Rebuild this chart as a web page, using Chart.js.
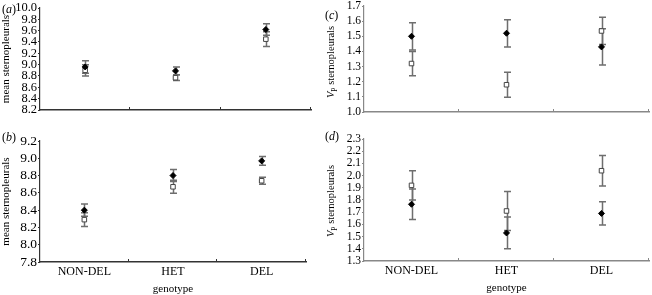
<!DOCTYPE html>
<html>
<head>
<meta charset="utf-8">
<script src="https://cdn.jsdelivr.net/npm/chart.js@4.4.1/dist/chart.umd.min.js"></script>
<style>
  html, body { margin: 0; padding: 0; background: #fff; overflow: hidden; }
  body { width: 652px; height: 295px; position: relative; font-family: 'Liberation Serif', 'DejaVu Serif', serif; color: #000; }
  canvas { position: absolute; }
  .panel-label { position: absolute; font-size: 12px; line-height: 12px; }
  .ytitle { position: absolute; font-size: 10.5px; white-space: nowrap; transform: translate(-50%, -50%) rotate(-90deg); }
  .ytitle sub { font-size: 7.5px; }
</style>
</head>
<body>
<canvas id="chartA"></canvas>
<canvas id="chartB"></canvas>
<canvas id="chartC"></canvas>
<canvas id="chartD"></canvas>

<div class="panel-label" style="left:2px; top:3px;">(<i>a</i>)</div>
<div class="panel-label" style="left:2px; top:131px;">(<i>b</i>)</div>
<div class="panel-label" style="left:325px; top:9px;">(<i>c</i>)</div>
<div class="panel-label" style="left:325px; top:130px;">(<i>d</i>)</div>

<div class="ytitle" style="left:332px; top:62px;"><i>V</i><sub>P</sub> sternopleurals</div>
<div class="ytitle" style="left:332px; top:201px;"><i>V</i><sub>P</sub> sternopleurals</div>

<script>
const genotypes = ['NON-DEL', 'HET', 'DEL'];

// (a) mean sternopleurals, top row
const meanFilledA = [8.96, 8.89, 9.62];
const errFilledA = [0.11, 0.07, 0.10];
const meanOpenA = [8.90, 8.77, 9.45];
const errOpenA = [0.10, 0.05, 0.13];
const yTicksA = [8.2, 8.4, 8.6, 8.8, 9.0, 9.2, 9.4, 9.6, 9.8, 10.0];

// (b) mean sternopleurals, bottom row
const meanFilledB = [8.40, 8.80, 8.97];
const errFilledB = [0.07, 0.07, 0.05];
const meanOpenB = [8.29, 8.67, 8.74];
const errOpenB = [0.08, 0.075, 0.04];
const yTicksB = [7.8, 8.0, 8.2, 8.4, 8.6, 8.8, 9.0, 9.2];

// (c) VP sternopleurals, top row
const vpFilledC = [1.50, 1.52, 1.43];
const errFilledC = [0.09, 0.09, 0.12];
const vpOpenC = [1.32, 1.18, 1.535];
const errOpenC = [0.08, 0.083, 0.09];
const yTicksC = [1.0, 1.1, 1.2, 1.3, 1.4, 1.5, 1.6, 1.7];

// (d) VP sternopleurals, bottom row
const vpFilledD = [1.765, 1.53, 1.69];
const errFilledD = [0.125, 0.13, 0.095];
const vpOpenD = [1.92, 1.71, 2.04];
const errOpenD = [0.12, 0.16, 0.125];
const yTicksD = [1.3, 1.4, 1.5, 1.6, 1.7, 1.8, 1.9, 2.0, 2.1, 2.2, 2.3];

// Draws the error bars (under the markers) from each dataset's errors array
const errorBars = {
    id: 'errorBars',
    beforeDatasetsDraw(chart) {
        const ctx = chart.ctx;
        const x = chart.scales.x;
        const y = chart.scales.y;
        ctx.save();
        ctx.strokeStyle = '#6e6e6e';
        ctx.lineWidth = 1.5;
        chart.data.datasets.forEach(ds => {
            ds.errors.forEach((e, i) => {
                const px = Math.round(x.getPixelForValue(i)) + 0.5;
                const top = y.getPixelForValue(ds.data[i] + e);
                const bot = y.getPixelForValue(ds.data[i] - e);
                ctx.beginPath();
                ctx.moveTo(px, top); ctx.lineTo(px, bot);
                ctx.moveTo(px - 3.5, top); ctx.lineTo(px + 3.5, top);
                ctx.moveTo(px - 3.5, bot); ctx.lineTo(px + 3.5, bot);
                ctx.stroke();
            });
        });
        ctx.restore();
    }
};

// Small upward tick marks at the category boundaries on the x axis
const innerTicks = {
    id: 'innerTicks',
    afterDraw(chart) {
        const ctx = chart.ctx;
        const x = chart.scales.x;
        const base = chart.chartArea.bottom;
        ctx.save();
        ctx.strokeStyle = chart.options.scales.x.border.color;
        ctx.lineWidth = 1;
        for (let i = 0; i < genotypes.length; i++) {
            const px = Math.round(x.getPixelForValue(i + 0.5)) - 0.5;
            ctx.beginPath();
            ctx.moveTo(px, base);
            ctx.lineTo(px, base - 3);
            ctx.stroke();
        }
        ctx.restore();
    }
};

// Builds one panel so that its plot area lands on the given page box
function makePanel(id, canvasLeft, area, cfg) {
    const padTop = 14;
    const padRight = 4;
    const xAxisHeight = cfg.showX ? 34 : 0;
    const padBottom = cfg.showX ? 0 : 14;

    const canvas = document.getElementById(id);
    canvas.width = area.right + padRight - canvasLeft;
    canvas.height = padTop + (area.bottom - area.top) + xAxisHeight + padBottom;
    canvas.style.left = canvasLeft + 'px';
    canvas.style.top = (area.top - padTop) + 'px';

    const axisColor = cfg.axisColor;

    return new Chart(canvas, {
        type: 'line',
        data: {
            labels: genotypes,
            datasets: [
                {
                    data: cfg.filled,
                    errors: cfg.filledErr,
                    showLine: false,
                    pointStyle: 'rectRot',
                    pointRadius: 3,
                    pointBackgroundColor: '#000',
                    pointBorderColor: '#000',
                    pointBorderWidth: 1
                },
                {
                    data: cfg.open,
                    errors: cfg.openErr,
                    showLine: false,
                    pointStyle: 'rect',
                    pointRadius: 3.2,
                    pointBackgroundColor: '#fff',
                    pointBorderColor: '#444',
                    pointBorderWidth: 1
                }
            ]
        },
        options: {
            responsive: false,
            animation: false,
            events: [],
            layout: { padding: { top: padTop, right: padRight, bottom: padBottom, left: 0 } },
            plugins: { legend: { display: false }, tooltip: { enabled: false } },
            scales: {
                x: {
                    type: 'category',
                    offset: true,
                    grid: { display: false, drawTicks: false },
                    border: { display: true, color: axisColor, width: 1.4 },
                    ticks: {
                        display: cfg.showX,
                        color: '#000',
                        padding: 3,
                        font: { family: 'Liberation Serif', size: 12 }
                    },
                    title: {
                        display: cfg.showX,
                        text: 'genotype',
                        color: '#000',
                        padding: 0,
                        font: { family: 'Liberation Serif', size: 11 }
                    },
                    afterFit(scale) { scale.height = xAxisHeight; }
                },
                y: {
                    min: cfg.ticks[0],
                    max: cfg.ticks[cfg.ticks.length - 1],
                    grid: { drawOnChartArea: false, drawTicks: true, tickLength: 2, color: axisColor },
                    border: { display: true, color: axisColor, width: 1.2 },
                    afterBuildTicks(scale) { scale.ticks = cfg.ticks.map(v => ({ value: v })); },
                    ticks: {
                        autoSkip: false,
                        color: '#000',
                        padding: 1,
                        font: { family: 'Liberation Serif', size: cfg.tickSize },
                        callback: v => Number(v).toFixed(1)
                    },
                    title: {
                        display: !!cfg.yTitle,
                        text: cfg.yTitle || '',
                        color: '#000',
                        padding: 0,
                        font: { family: 'Liberation Serif', size: 11 }
                    },
                    afterFit(scale) { scale.width = area.left - canvasLeft; }
                }
            }
        },
        plugins: [errorBars, innerTicks]
    });
}

makePanel('chartA', 0, { left: 40, top: 8, right: 312, bottom: 110 }, {
    filled: meanFilledA, filledErr: errFilledA, open: meanOpenA, openErr: errOpenA,
    ticks: yTicksA, tickSize: 12.5, yTitle: 'mean sternopleurals', showX: false, axisColor: '#333'
});

makePanel('chartB', 0, { left: 40, top: 141, right: 307, bottom: 262 }, {
    filled: meanFilledB, filledErr: errFilledB, open: meanOpenB, openErr: errOpenB,
    ticks: yTicksB, tickSize: 13.5, yTitle: 'mean sternopleurals', showX: true, axisColor: '#333'
});

makePanel('chartC', 322, { left: 364, top: 6, right: 650, bottom: 112 }, {
    filled: vpFilledC, filledErr: errFilledC, open: vpOpenC, openErr: errOpenC,
    ticks: yTicksC, tickSize: 11.5, yTitle: '', showX: false, axisColor: '#888'
});

makePanel('chartD', 322, { left: 364, top: 139, right: 650, bottom: 261 }, {
    filled: vpFilledD, filledErr: errFilledD, open: vpOpenD, openErr: errOpenD,
    ticks: yTicksD, tickSize: 11.5, yTitle: '', showX: true, axisColor: '#888'
});
</script>
</body>
</html>
